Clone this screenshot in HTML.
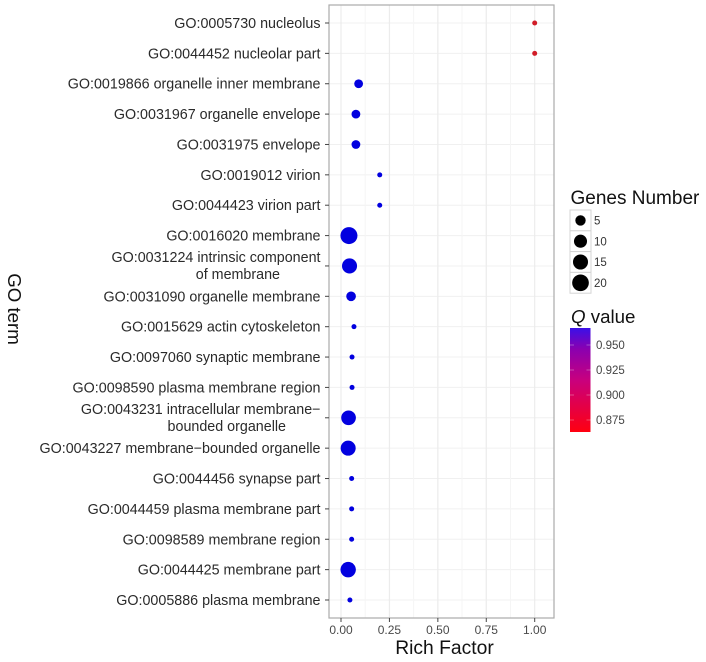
<!DOCTYPE html>
<html>
<head>
<meta charset="utf-8">
<style>
html,body{margin:0;padding:0;background:#fff;width:706px;height:662px;overflow:hidden}
svg{display:block;font-family:"Liberation Sans",sans-serif;filter:blur(0.35px)}
</style>
</head>
<body>
<svg id="chart" width="706" height="662" viewBox="0 0 706 662" xmlns="http://www.w3.org/2000/svg"></svg>
<script>
const categories = [
  "GO:0005730 nucleolus",
  "GO:0044452 nucleolar part",
  "GO:0019866 organelle inner membrane",
  "GO:0031967 organelle envelope",
  "GO:0031975 envelope",
  "GO:0019012 virion",
  "GO:0044423 virion part",
  "GO:0016020 membrane",
  "GO:0031224 intrinsic component\nof membrane",
  "GO:0031090 organelle membrane",
  "GO:0015629 actin cytoskeleton",
  "GO:0097060 synaptic membrane",
  "GO:0098590 plasma membrane region",
  "GO:0043231 intracellular membrane\u2212\nbounded organelle",
  "GO:0043227 membrane\u2212bounded organelle",
  "GO:0044456 synapse part",
  "GO:0044459 plasma membrane part",
  "GO:0098589 membrane region",
  "GO:0044425 membrane part",
  "GO:0005886 plasma membrane"
];
const richFactor = [1, 1, 0.091, 0.077, 0.077, 0.2, 0.2, 0.041, 0.044, 0.052, 0.067, 0.057, 0.057, 0.039, 0.037, 0.055, 0.055, 0.055, 0.037, 0.046];
const genesNumber = [1, 1, 3, 3, 3, 1, 1, 21, 15, 4, 1, 1, 1, 14, 15, 1, 1, 1, 16, 1];
const qValue = [0.866, 0.866, 0.966, 0.966, 0.966, 0.966, 0.966, 0.966, 0.966, 0.966, 0.966, 0.966, 0.966, 0.966, 0.966, 0.966, 0.966, 0.966, 0.966, 0.966];
const xTicks = [0, 0.25, 0.5, 0.75, 1];
const xTickLabels = ["0.00", "0.25", "0.50", "0.75", "1.00"];
const xMinorTicks = [0.125, 0.375, 0.625, 0.875];
const sizeLegendValues = [5, 10, 15, 20];
const qLegendTicks = [0.95, 0.925, 0.9, 0.875];
const qLegendLabels = ["0.950", "0.925", "0.900", "0.875"];

const svg = document.getElementById('chart');
const NS = 'http://www.w3.org/2000/svg';
function make(tag, attrs, text) {
  const el = document.createElementNS(NS, tag);
  for (const k in attrs) el.setAttribute(k, attrs[k]);
  if (text !== undefined) el.textContent = text;
  svg.appendChild(el);
  return el;
}

const panel = { l: 329, r: 554, t: 5, b: 618 };
const xScale = v => 341 + v * 193.7;
const yScale = i => 23 + i * (600 - 23) / (categories.length - 1);
const minGenes = 1, maxGenes = 21;
const diameter = g => 5 + 12 * Math.sqrt((g - minGenes) / (maxGenes - minGenes));
const qMin = 0.863, qMax = 0.967;
const qY = q => 432 - (q - qMin) / (qMax - qMin) * (432 - 328);
function qColor(q) {
  const t = Math.max(0, Math.min(1, (q - qMin) / (qMax - qMin)));
  const r = Math.round(215 + (0 - 215) * t);
  const g = Math.round(30 + (0 - 30) * t);
  const b = Math.round(35 + (225 - 35) * t);
  return 'rgb(' + r + ',' + g + ',' + b + ')';
}

/* horizontal grid */
categories.forEach((c, i) => {
  const el = make('line', { x1: panel.l, x2: panel.r, y1: yScale(i), y2: yScale(i), stroke: '#f0f0f0', 'stroke-width': 1 });
  
  
});
/* vertical grid */
xMinorTicks.forEach(v => {
  const el = make('line', { x1: xScale(v), x2: xScale(v), y1: panel.t, y2: panel.b, stroke: '#f5f5f5', 'stroke-width': 1 });
  
  
});
xTicks.forEach(v => {
  const el = make('line', { x1: xScale(v), x2: xScale(v), y1: panel.t, y2: panel.b, stroke: '#ececec', 'stroke-width': 1.2 });
  
  
});

/* panel border */
const border = make('rect', { x: panel.l, y: panel.t, width: panel.r - panel.l, height: panel.b - panel.t, fill: 'none', stroke: '#ababab', 'stroke-width': 1.2 });



/* y axis ticks and labels */
const LABEL_RIGHT = 320.5;
const LABEL_SIZE = 14.3;
const WRAP_SECOND_LINE_RIGHT = { 8: 280, 13: 286 };
categories.forEach((c, i) => {
  const y = yScale(i);
  const tick = make('line', { x1: 325, x2: 329, y1: y, y2: y, stroke: '#444', 'stroke-width': 1 });
  
  
  const lines = c.split('\n');
  if (lines.length === 1) {
    const t = make('text', { x: LABEL_RIGHT, y: y + 5, 'text-anchor': 'end', 'font-size': LABEL_SIZE, fill: '#2a2a2a' }, lines[0]);
    
    
  } else {
    const t1 = make('text', { x: LABEL_RIGHT, y: y - 4, 'text-anchor': 'end', 'font-size': LABEL_SIZE, fill: '#2a2a2a' }, lines[0]);
    
    
    const t2 = make('text', { x: WRAP_SECOND_LINE_RIGHT[i], y: y + 13, 'text-anchor': 'end', 'font-size': LABEL_SIZE, fill: '#2a2a2a' }, lines[1]);
    
    
  }
});

/* x axis */
xTicks.forEach((v, i) => {
  const tick = make('line', { x1: xScale(v), x2: xScale(v), y1: panel.b, y2: panel.b + 4, stroke: '#444', 'stroke-width': 1 });
  
  
  const t = make('text', { x: xScale(v), y: 634, 'text-anchor': 'middle', 'font-size': 12, fill: '#4a4a4a' }, xTickLabels[i]);
  
  
});

/* points */
categories.forEach((c, i) => {
  const dot = make('circle', { cx: xScale(richFactor[i]), cy: yScale(i), r: diameter(genesNumber[i]) / 2, fill: qColor(qValue[i]) });
  
  
});

/* axis titles */
const xTitle = make('text', { x: 444.5, y: 654, 'text-anchor': 'middle', 'font-size': 19.3, fill: '#111' }, 'Rich Factor');


const yTitle = make('text', { x: 0, y: 0, transform: 'translate(8,309) rotate(90)', 'text-anchor': 'middle', 'font-size': 18.7, fill: '#111' }, 'GO term');



/* size legend */
const genesTitle = make('text', { x: 570.5, y: 204, 'font-size': 19, fill: '#111' }, 'Genes Number');


sizeLegendValues.forEach((g, i) => {
  const top = 210 + i * 20.8;
  const box = make('rect', { x: 570, y: top, width: 21, height: 20.8, fill: '#fff', stroke: '#d4d4d4', 'stroke-width': 1 });
  
  
  const c = make('circle', { cx: 580.5, cy: top + 10.4, r: diameter(g) / 2, fill: '#000' });
  
  
  const t = make('text', { x: 594, y: top + 14.5, 'font-size': 11.5, fill: '#333' }, String(g));
  
  
});

/* colour legend */
const qTitle = make('text', { x: 571, y: 323, 'font-size': 18.7, fill: '#111' });


const qSpan = document.createElementNS(NS, 'tspan');
qSpan.setAttribute('font-style', 'italic');
qSpan.textContent = 'Q';
qTitle.appendChild(qSpan);
qTitle.appendChild(document.createTextNode(' value'));

const defs = make('defs', {});
const grad = document.createElementNS(NS, 'linearGradient');
grad.setAttribute('id', 'qGradient');
grad.setAttribute('x1', '0'); grad.setAttribute('y1', '1');
grad.setAttribute('x2', '0'); grad.setAttribute('y2', '0');
[['0%', '#ff0010'], ['50%', '#c8007e'], ['80%', '#8a00b0'], ['100%', '#3a10e8']].forEach(s => {
  const st = document.createElementNS(NS, 'stop');
  st.setAttribute('offset', s[0]);
  st.setAttribute('stop-color', s[1]);
  grad.appendChild(st);
});
defs.appendChild(grad);
const bar = make('rect', { x: 570, y: 328, width: 20.5, height: 104, fill: 'url(#qGradient)' });


qLegendTicks.forEach((q, i) => {
  const y = qY(q);
  const a = make('line', { x1: 570, x2: 574, y1: y, y2: y, stroke: '#fff', 'stroke-width': 0.6, 'stroke-opacity': 0.5 });
  
  
  const b = make('line', { x1: 586.5, x2: 590.5, y1: y, y2: y, stroke: '#fff', 'stroke-width': 0.6, 'stroke-opacity': 0.5 });
  
  
  const t = make('text', { x: 596, y: y + 4, 'font-size': 11.5, fill: '#444' }, qLegendLabels[i]);
  
  
});
</script>
</body>
</html>
